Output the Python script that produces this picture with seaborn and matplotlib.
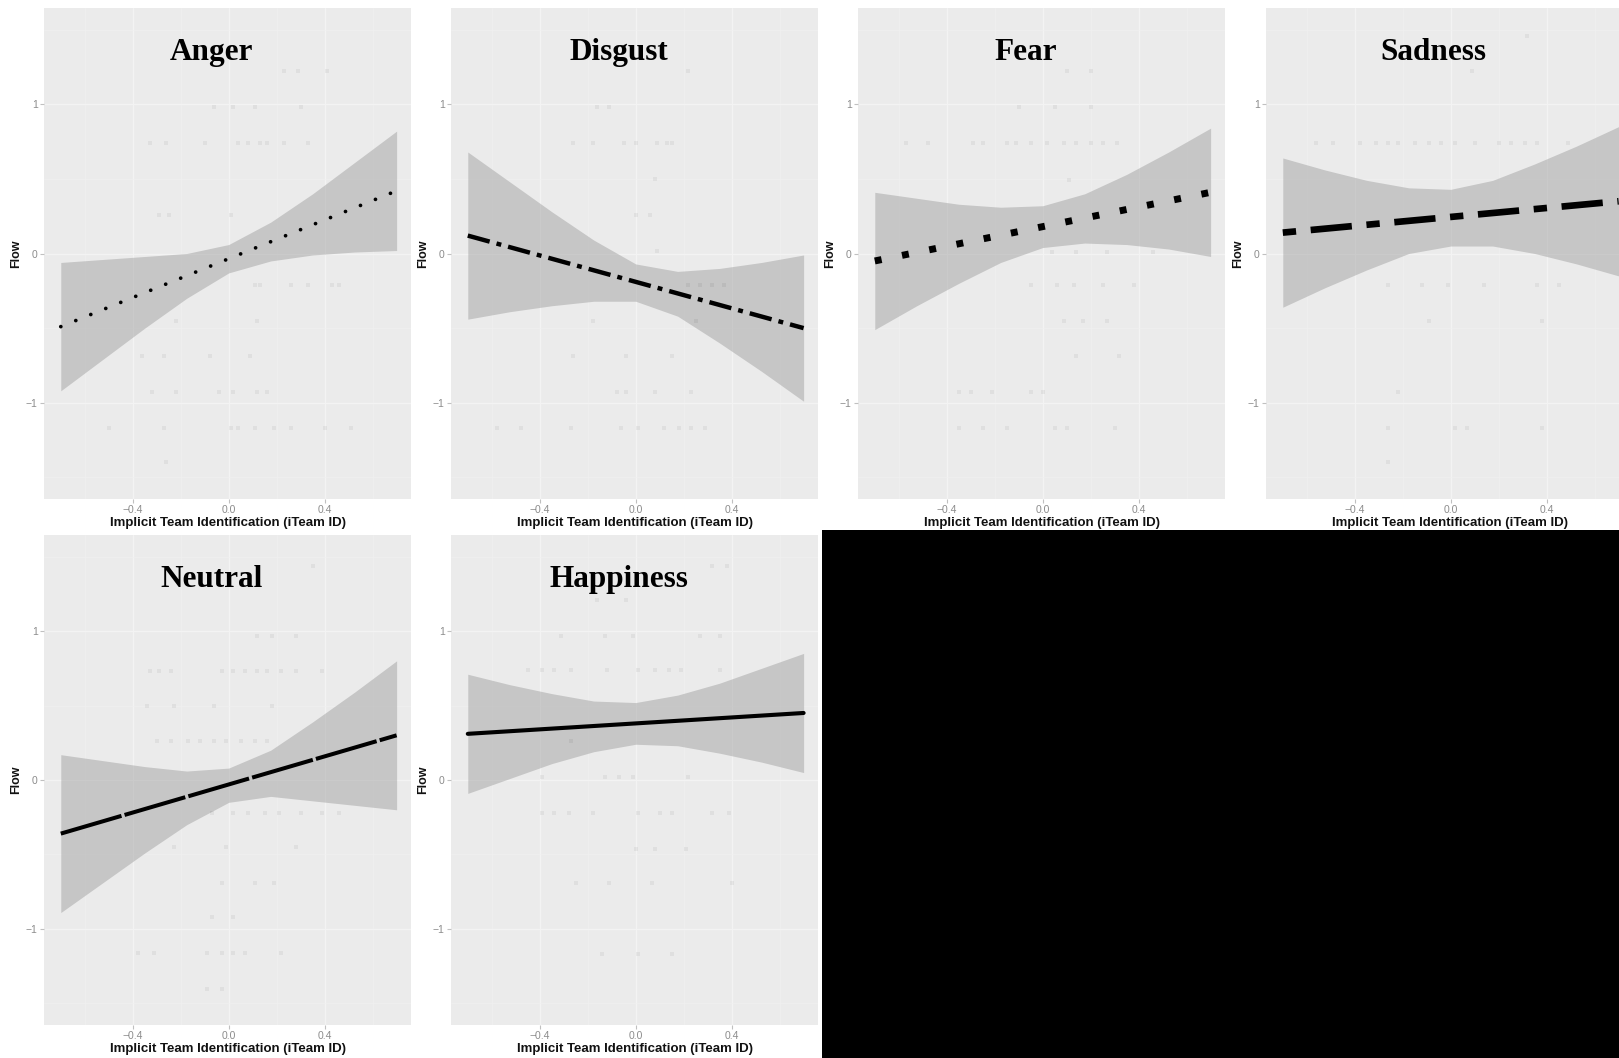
import matplotlib
matplotlib.use("Agg")
import matplotlib.pyplot as plt
from matplotlib.patches import Rectangle
from matplotlib.ticker import FixedLocator
import pandas as pd
import seaborn as sns

# ---- values ----
EMOTIONS = ["Anger", "Disgust", "Fear", "Sadness", "Neutral", "Happiness"]

FIT_X = [-0.70, 0.70]
ANGER_FIT = [-0.49, 0.42]
DISGUST_FIT = [0.12, -0.50]
FEAR_FIT = [-0.05, 0.41]
SADNESS_FIT = [0.14, 0.35]
NEUTRAL_FIT = [-0.36, 0.30]
HAPPINESS_FIT = [0.31, 0.45]

BAND_X = [-0.7, -0.525, -0.35, -0.175, 0.0, 0.175, 0.35, 0.525, 0.7]
ANGER_UP = [-0.06, -0.04, -0.02, 0.00, 0.06, 0.21, 0.40, 0.61, 0.82]
ANGER_LO = [-0.92, -0.71, -0.50, -0.30, -0.13, -0.05, -0.01, 0.01, 0.02]
DISGUST_UP = [0.68, 0.48, 0.28, 0.09, -0.07, -0.12, -0.10, -0.06, -0.01]
DISGUST_LO = [-0.44, -0.39, -0.35, -0.32, -0.32, -0.42, -0.60, -0.79, -0.99]
FEAR_UP = [0.41, 0.37, 0.33, 0.31, 0.32, 0.40, 0.53, 0.68, 0.84]
FEAR_LO = [-0.51, -0.35, -0.20, -0.06, 0.04, 0.07, 0.06, 0.03, -0.02]
SADNESS_UP = [0.64, 0.56, 0.49, 0.44, 0.43, 0.49, 0.60, 0.72, 0.85]
SADNESS_LO = [-0.36, -0.23, -0.11, 0.00, 0.05, 0.05, 0.00, -0.07, -0.15]
NEUTRAL_UP = [0.17, 0.13, 0.09, 0.06, 0.08, 0.20, 0.39, 0.59, 0.80]
NEUTRAL_LO = [-0.89, -0.69, -0.49, -0.30, -0.15, -0.11, -0.14, -0.17, -0.20]
HAPPINESS_UP = [0.71, 0.64, 0.58, 0.53, 0.52, 0.57, 0.65, 0.75, 0.85]
HAPPINESS_LO = [-0.09, 0.01, 0.11, 0.19, 0.24, 0.23, 0.18, 0.12, 0.05]

# faint raw observations: Flow level -> iTeam ID values
ANGER_PTS = {
    1.22: [0.23, 0.29, 0.41],
    0.98: [-0.06, 0.02, 0.11, 0.30],
    0.74: [-0.33, -0.26, -0.10, 0.04, 0.08, 0.13, 0.16, 0.23, 0.33],
    0.26: [-0.29, -0.25, 0.01],
    -0.21: [0.11, 0.13, 0.26, 0.33, 0.43, 0.46],
    -0.45: [-0.22, 0.12],
    -0.69: [-0.36, -0.27, -0.08, 0.09],
    -0.93: [-0.32, -0.22, -0.04, 0.02, 0.12, 0.16],
    -1.17: [-0.50, -0.27, 0.01, 0.04, 0.11, 0.19, 0.26, 0.40, 0.51],
    -1.40: [-0.26],
}
DISGUST_PTS = {
    1.22: [0.22],
    0.98: [-0.16, -0.11],
    0.74: [-0.26, -0.18, -0.05, 0.00, 0.09, 0.13, 0.15],
    0.50: [0.08],
    0.26: [0.00, 0.06],
    0.02: [0.09],
    -0.21: [0.22, 0.27, 0.32, 0.37],
    -0.45: [-0.18, 0.25],
    -0.69: [-0.26, -0.04, 0.15],
    -0.93: [-0.08, -0.04, 0.08, 0.23],
    -1.17: [-0.58, -0.48, -0.27, -0.06, 0.01, 0.12, 0.18, 0.23, 0.29],
}
FEAR_PTS = {
    1.22: [0.10, 0.20],
    0.98: [-0.10, 0.05, 0.20],
    0.74: [-0.57, -0.48, -0.29, -0.25, -0.15, -0.11, -0.05, 0.02, 0.09, 0.14, 0.20, 0.25, 0.31],
    0.49: [0.11],
    0.01: [0.04, 0.14, 0.27, 0.46],
    -0.21: [-0.05, 0.06, 0.13, 0.25, 0.38],
    -0.45: [0.09, 0.17, 0.27],
    -0.69: [0.14, 0.32],
    -0.93: [-0.35, -0.30, -0.21, -0.05, 0.00],
    -1.17: [-0.35, -0.25, -0.15, 0.05, 0.10, 0.30],
}
SADNESS_PTS = {
    1.46: [0.32],
    1.22: [0.09],
    0.74: [-0.56, -0.49, -0.38, -0.31, -0.26, -0.22, -0.15, -0.09, -0.04, 0.02, 0.10, 0.20, 0.25, 0.31, 0.36, 0.49],
    -0.21: [-0.26, -0.12, -0.01, 0.14, 0.36, 0.45],
    -0.45: [-0.09, 0.38],
    -0.93: [-0.22],
    -1.17: [-0.26, 0.02, 0.07, 0.38],
    -1.40: [-0.26],
}
NEUTRAL_PTS = {
    1.44: [0.35],
    0.97: [0.12, 0.18, 0.28],
    0.73: [-0.33, -0.29, -0.24, -0.03, 0.02, 0.07, 0.12, 0.16, 0.22, 0.28, 0.39],
    0.50: [-0.34, -0.23, -0.06, 0.18],
    0.26: [-0.30, -0.24, -0.17, -0.12, -0.06, -0.01, 0.05, 0.11, 0.16],
    -0.22: [-0.07, 0.02, 0.08, 0.15, 0.21, 0.30, 0.39, 0.46],
    -0.45: [-0.23, -0.01, 0.28],
    -0.69: [-0.03, 0.11, 0.19],
    -0.92: [-0.07, 0.02],
    -1.16: [-0.38, -0.31, -0.09, -0.03, 0.02, 0.07, 0.22],
    -1.40: [-0.09, -0.03],
}
HAPPINESS_PTS = {
    1.44: [0.32, 0.38],
    1.21: [-0.16, -0.04],
    0.97: [-0.31, -0.13, -0.01, 0.27, 0.35],
    0.74: [-0.45, -0.39, -0.34, -0.27, -0.12, 0.01, 0.08, 0.14, 0.19, 0.35],
    0.26: [-0.27],
    0.02: [-0.39, -0.13, -0.07, -0.01, 0.22],
    -0.22: [-0.39, -0.34, -0.28, -0.18, 0.01, 0.10, 0.15, 0.32, 0.39],
    -0.46: [0.00, 0.08, 0.21],
    -0.69: [-0.25, -0.11, 0.07, 0.40],
    -1.17: [-0.14, 0.01, 0.15],
}

FITS = [ANGER_FIT, DISGUST_FIT, FEAR_FIT, SADNESS_FIT, NEUTRAL_FIT, HAPPINESS_FIT]
UPPERS = [ANGER_UP, DISGUST_UP, FEAR_UP, SADNESS_UP, NEUTRAL_UP, HAPPINESS_UP]
LOWERS = [ANGER_LO, DISGUST_LO, FEAR_LO, SADNESS_LO, NEUTRAL_LO, HAPPINESS_LO]
POINTS = [ANGER_PTS, DISGUST_PTS, FEAR_PTS, SADNESS_PTS, NEUTRAL_PTS, HAPPINESS_PTS]

# line look per panel: width (pt), dash pattern (in line widths), cap style
LINE_STYLES = [
    (2.7, (0, (0.01, 4.3)), "round"),
    (3.2, (0, (5.1, 1.6, 1.1, 1.6)), "butt"),
    (5.0, (0, (1.0, 3.0)), "butt"),
    (4.8, (0, (2.0, 2.2, 6.2, 2.2)), "butt"),
    (2.9, (0, (15.7, 0.8)), "butt"),
    (2.95, "solid", "butt"),
]

W, H = 1619, 1058
# panel boxes in pixels: left, top, width, height
PANELS = [
    (44, 8, 367, 491), (451, 8, 367, 491), (858, 8, 367, 491), (1266, 8, 367, 491),
    (44, 535, 367, 490), (451, 535, 367, 490),
]

sns.set_theme(style="darkgrid", rc={
    "axes.facecolor": "#EBEBEB",
    "figure.facecolor": "white",
    "grid.color": "white",
    "axes.linewidth": 0,
    "text.color": "black",
    "axes.labelcolor": "black",
})
plt.rcParams["font.family"] = ["Liberation Sans", "DejaVu Sans"]

fig = plt.figure(figsize=(W / 100, H / 100), dpi=100)


def points_frame(pts):
    rows = [(x, y) for y, xs in pts.items() for x in xs]
    return pd.DataFrame(rows, columns=["iTeamID", "Flow"])


for i, name in enumerate(EMOTIONS):
    l, t, w, h = PANELS[i]
    ax = fig.add_axes([l / W, 1 - (t + h) / H, w / W, h / H])

    ax.fill_between(BAND_X, LOWERS[i], UPPERS[i], color="#999999", alpha=0.45,
                    linewidth=0, zorder=2)
    sns.scatterplot(data=points_frame(POINTS[i]), x="iTeamID", y="Flow", ax=ax,
                    color="black", alpha=0.05, s=6, marker="s", linewidth=0,
                    zorder=3)
    lw, ls, cap = LINE_STYLES[i]
    sns.lineplot(x=FIT_X, y=FITS[i], ax=ax, color="black", linewidth=lw,
                 linestyle=ls, dash_capstyle=cap, errorbar=None, zorder=4)

    ax.set_xlim(-0.77, 0.76)
    ax.set_ylim(-1.645, 1.645)
    ax.set_xticks([-0.4, 0.0, 0.4])
    ax.set_yticks([-1, 0, 1])
    ax.xaxis.set_minor_locator(FixedLocator([-0.6, -0.2, 0.2, 0.6]))
    ax.yaxis.set_minor_locator(FixedLocator([-1.5, -0.5, 0.5, 1.5]))
    ax.grid(which="major", color="#F3F3F3", linewidth=0.9)
    ax.grid(which="minor", color="#F0F0F0", linewidth=0.45)
    ax.tick_params(which="major", labelsize=7.5, labelcolor="#8C8C8C",
                   color="#C0C0C0", length=3, width=0.8, pad=1.5,
                   bottom=True, left=True)
    ax.tick_params(which="minor", length=0)

    ax.set_xlabel("Implicit Team Identification (iTeam ID)", fontsize=9.5,
                  fontweight="bold", labelpad=1, color="#111111")
    ax.set_ylabel("Flow", fontsize=9, fontweight="bold", labelpad=3,
                  color="#111111")
    ax.text(0.457, 0.894, name, transform=ax.transAxes, ha="center",
            va="baseline", fontsize=22.5, fontweight="bold", color="black",
            family="Liberation Serif", zorder=5)

# black block covering the empty bottom-right area
fig.add_artist(Rectangle((822 / W, 0), 1 - 822 / W, 528 / H,
                         transform=fig.transFigure, facecolor="black",
                         edgecolor="none", zorder=10))

fig.savefig("out.png", dpi=100)
